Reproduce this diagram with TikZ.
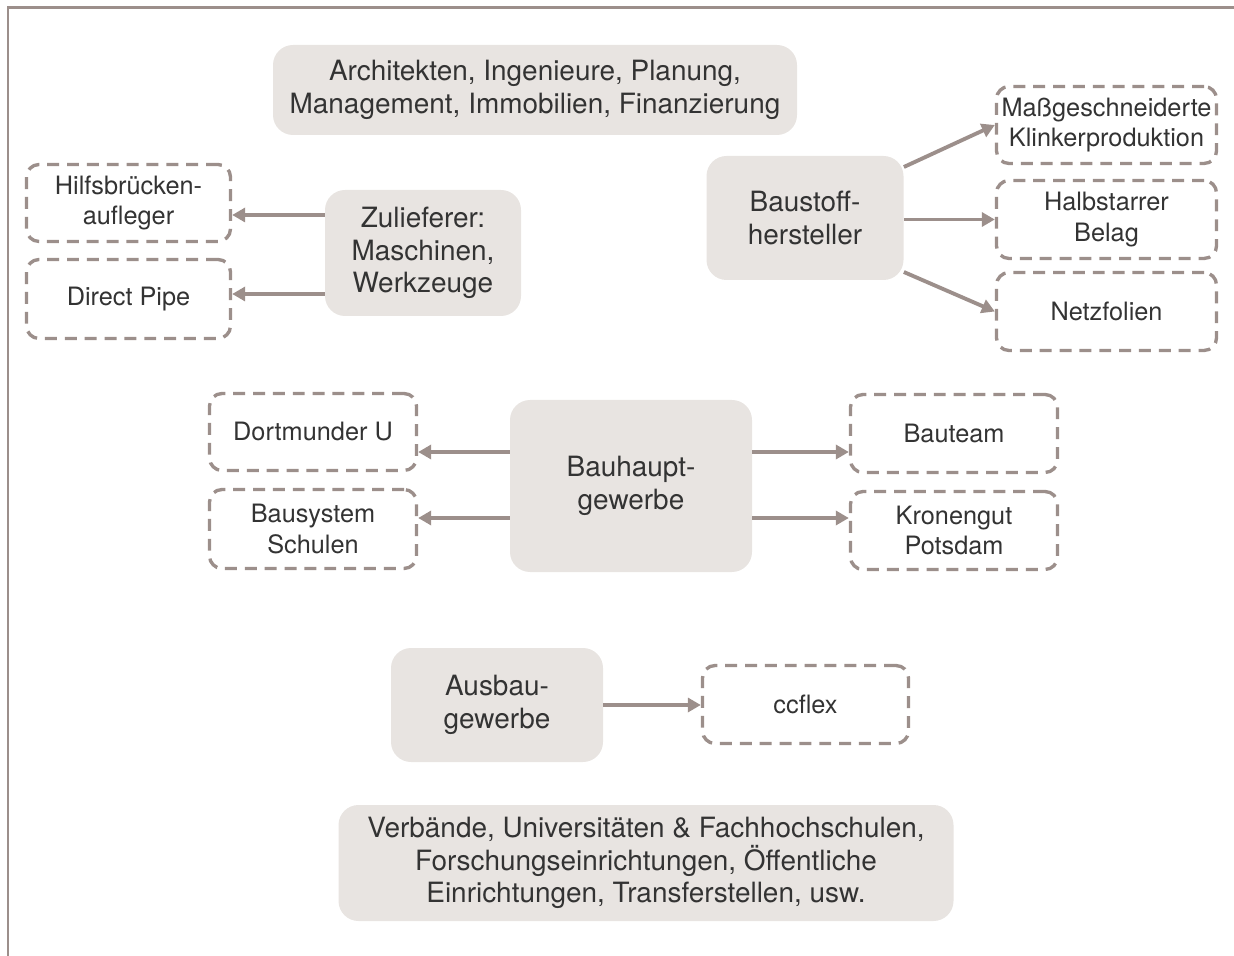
\documentclass[tikz,border=0pt]{standalone}
\usepackage{fontspec}
\setmainfont{TeX Gyre Heros}
\usetikzlibrary{positioning,arrows.meta}

\definecolor{rahmen}{HTML}{9C8F8B}
\definecolor{kasten}{HTML}{E8E4E1}
\definecolor{schrift}{HTML}{333333}

\tikzset{
  akteur/.style={fill=kasten, rounded corners=0.4cm, align=center, text=schrift,
    font=\fontsize{15.9}{18.4}\selectfont, inner sep=2pt},
  projekt/.style={draw=rahmen, line width=1.9pt, dash pattern=on 6.8pt off 4.5pt,
    rounded corners=0.25cm, align=center, text=schrift,
    font=\fontsize{14.4}{17.4}\selectfont, inner sep=2pt},
  pfeil/.style={draw=rahmen, line width=2.2pt, -{Triangle[length=0.26cm,width=0.28cm]}}
}

\begin{document}
\begin{tikzpicture}
\useasboundingbox (0,0) rectangle (24.68,-19.12);
\draw[color=rahmen, line width=1.7pt](0.16, -19.2) -- (0.16, -0.16) -- (24.8, -0.16);

\node[akteur, minimum width=10.48cm, minimum height=1.80cm] (planer) at (10.70,-1.80) {Architekten, Ingenieure, Planung,\\Management, Immobilien, Finanzierung};
\node[akteur, minimum width=3.92cm, minimum height=2.52cm] (zul) at (8.46,-5.06) {Zulieferer:\\Maschinen,\\Werkzeuge};
\node[akteur, minimum width=3.94cm, minimum height=2.48cm] (baustoff) at (16.10,-4.36) {Baustoff-\\hersteller};
\node[akteur, minimum width=4.84cm, minimum height=3.44cm] (haupt) at (12.62,-9.72) {Bauhaupt-\\gewerbe};
\node[akteur, minimum width=4.24cm, minimum height=2.28cm] (ausbau) at (9.94,-14.10) {Ausbau-\\gewerbe};
\node[akteur, minimum width=12.30cm, minimum height=2.32cm] (verbaende) at (12.92,-17.26) {Verbände, Universitäten \& Fachhochschulen,\\Forschungseinrichtungen, Öffentliche\\Einrichtungen, Transferstellen, usw.};

\node[projekt, minimum width=4.08cm, minimum height=1.54cm] (hilf) at (2.57,-4.06) {Hilfsbrücken-\\aufleger};
\node[projekt, minimum width=4.08cm, minimum height=1.58cm] (pipe) at (2.57,-5.98) {Direct Pipe};
\node[projekt, minimum width=4.40cm, minimum height=1.54cm] (mass) at (22.13,-2.50) {Maßgeschneiderte\\Klinkerproduktion};
\node[projekt, minimum width=4.40cm, minimum height=1.56cm] (halb) at (22.13,-4.39) {Halbstarrer\\Belag};
\node[projekt, minimum width=4.40cm, minimum height=1.56cm] (netz) at (22.13,-6.23) {Netzfolien};
\node[projekt, minimum width=4.14cm, minimum height=1.54cm] (dort) at (6.26,-8.64) {Dortmunder U};
\node[projekt, minimum width=4.14cm, minimum height=1.58cm] (bausys) at (6.26,-10.58) {Bausystem\\Schulen};
\node[projekt, minimum width=4.14cm, minimum height=1.56cm] (team) at (19.08,-8.67) {Bauteam};
\node[projekt, minimum width=4.14cm, minimum height=1.56cm] (krone) at (19.08,-10.61) {Kronengut\\Potsdam};
\node[projekt, minimum width=4.12cm, minimum height=1.56cm] (cc) at (16.11,-14.09) {ccflex};

\draw[pfeil] ([yshift=-0.24cm]zul.west |- hilf.east) -- ([yshift=-0.24cm]hilf.east);
\draw[pfeil] ([yshift=0.10cm]zul.west |- pipe.east) -- ([yshift=0.10cm]pipe.east);

\draw[pfeil] ([yshift=1.02cm]baustoff.east) -- (mass.west);
\draw[pfeil] (baustoff.east |- halb.west) -- (halb.west);
\draw[pfeil] ([yshift=-1.08cm]baustoff.east) -- (netz.west);

\draw[pfeil] ([yshift=0.68cm]haupt.west) -- ([yshift=0.68cm]haupt.west -| dort.east);
\draw[pfeil] ([yshift=-0.64cm]haupt.west) -- ([yshift=-0.64cm]haupt.west -| bausys.east);
\draw[pfeil] ([yshift=0.68cm]haupt.east) -- ([yshift=0.68cm]haupt.east -| team.west);
\draw[pfeil] ([yshift=-0.64cm]haupt.east) -- ([yshift=-0.64cm]haupt.east -| krone.west);

\draw[pfeil] (ausbau.east) -- (ausbau.east -| cc.west);

\end{tikzpicture}
\end{document}
